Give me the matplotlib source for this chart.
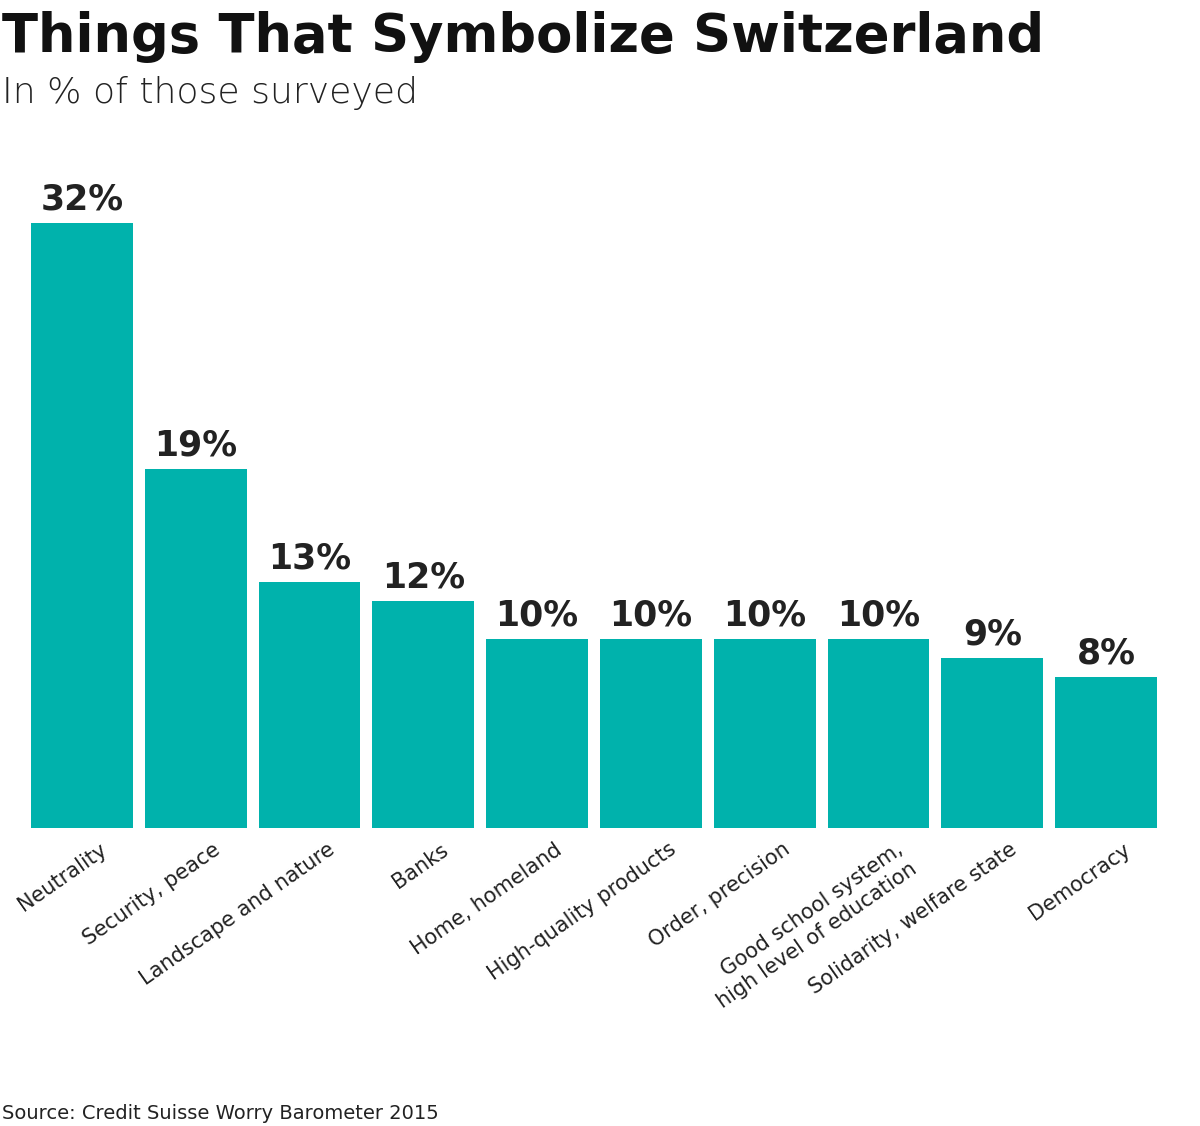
import matplotlib
matplotlib.use("Agg")
import matplotlib.pyplot as plt

categories = ["Neutrality", "Security, peace", "Landscape and nature", "Banks",
              "Home, homeland", "High-quality products", "Order, precision",
              "Good school system,\nhigh level of education",
              "Solidarity, welfare state", "Democracy"]
values = [32, 19, 13, 12, 10, 10, 10, 10, 9, 8]

W, H = 1200, 1126
fig = plt.figure(figsize=(W/100, H/100), dpi=100)
ax = fig.add_axes([31/W, (H-828)/H, 1126/W, 605/H])
xs = list(range(len(values)))
ax.bar(xs, values, width=102/114, color="#00B2AC")
ax.set_xlim(-0.4474, len(values)-1+0.4474)
ax.set_ylim(0, 32)
ax.axis("off")
for x, v in zip(xs, values):
    ax.text(x, v+0.35, f"{v}%", ha="center", va="bottom", fontsize=25,
            fontweight="bold", color="#222222")
for x, c in zip(xs, categories):
    ax.text(x+0.15, -0.6, c, ha="right", va="top", rotation=35,
            rotation_mode="anchor", fontsize=15, color="#222222",
            multialignment="right")
fig.text(2/W, 1-52/H, "Things That Symbolize Switzerland", fontsize=38,
         fontweight="bold", color="#111111", va="baseline")
fig.text(2/W, 1-103/H, "In % of those surveyed", fontsize=26,
         color="#222222", va="baseline", fontweight="light")
fig.text(2/W, 1-1119/H, "Source: Credit Suisse Worry Barometer 2015",
         fontsize=14, color="#222222", va="baseline")
fig.savefig("out.png", dpi=100, facecolor="white")
